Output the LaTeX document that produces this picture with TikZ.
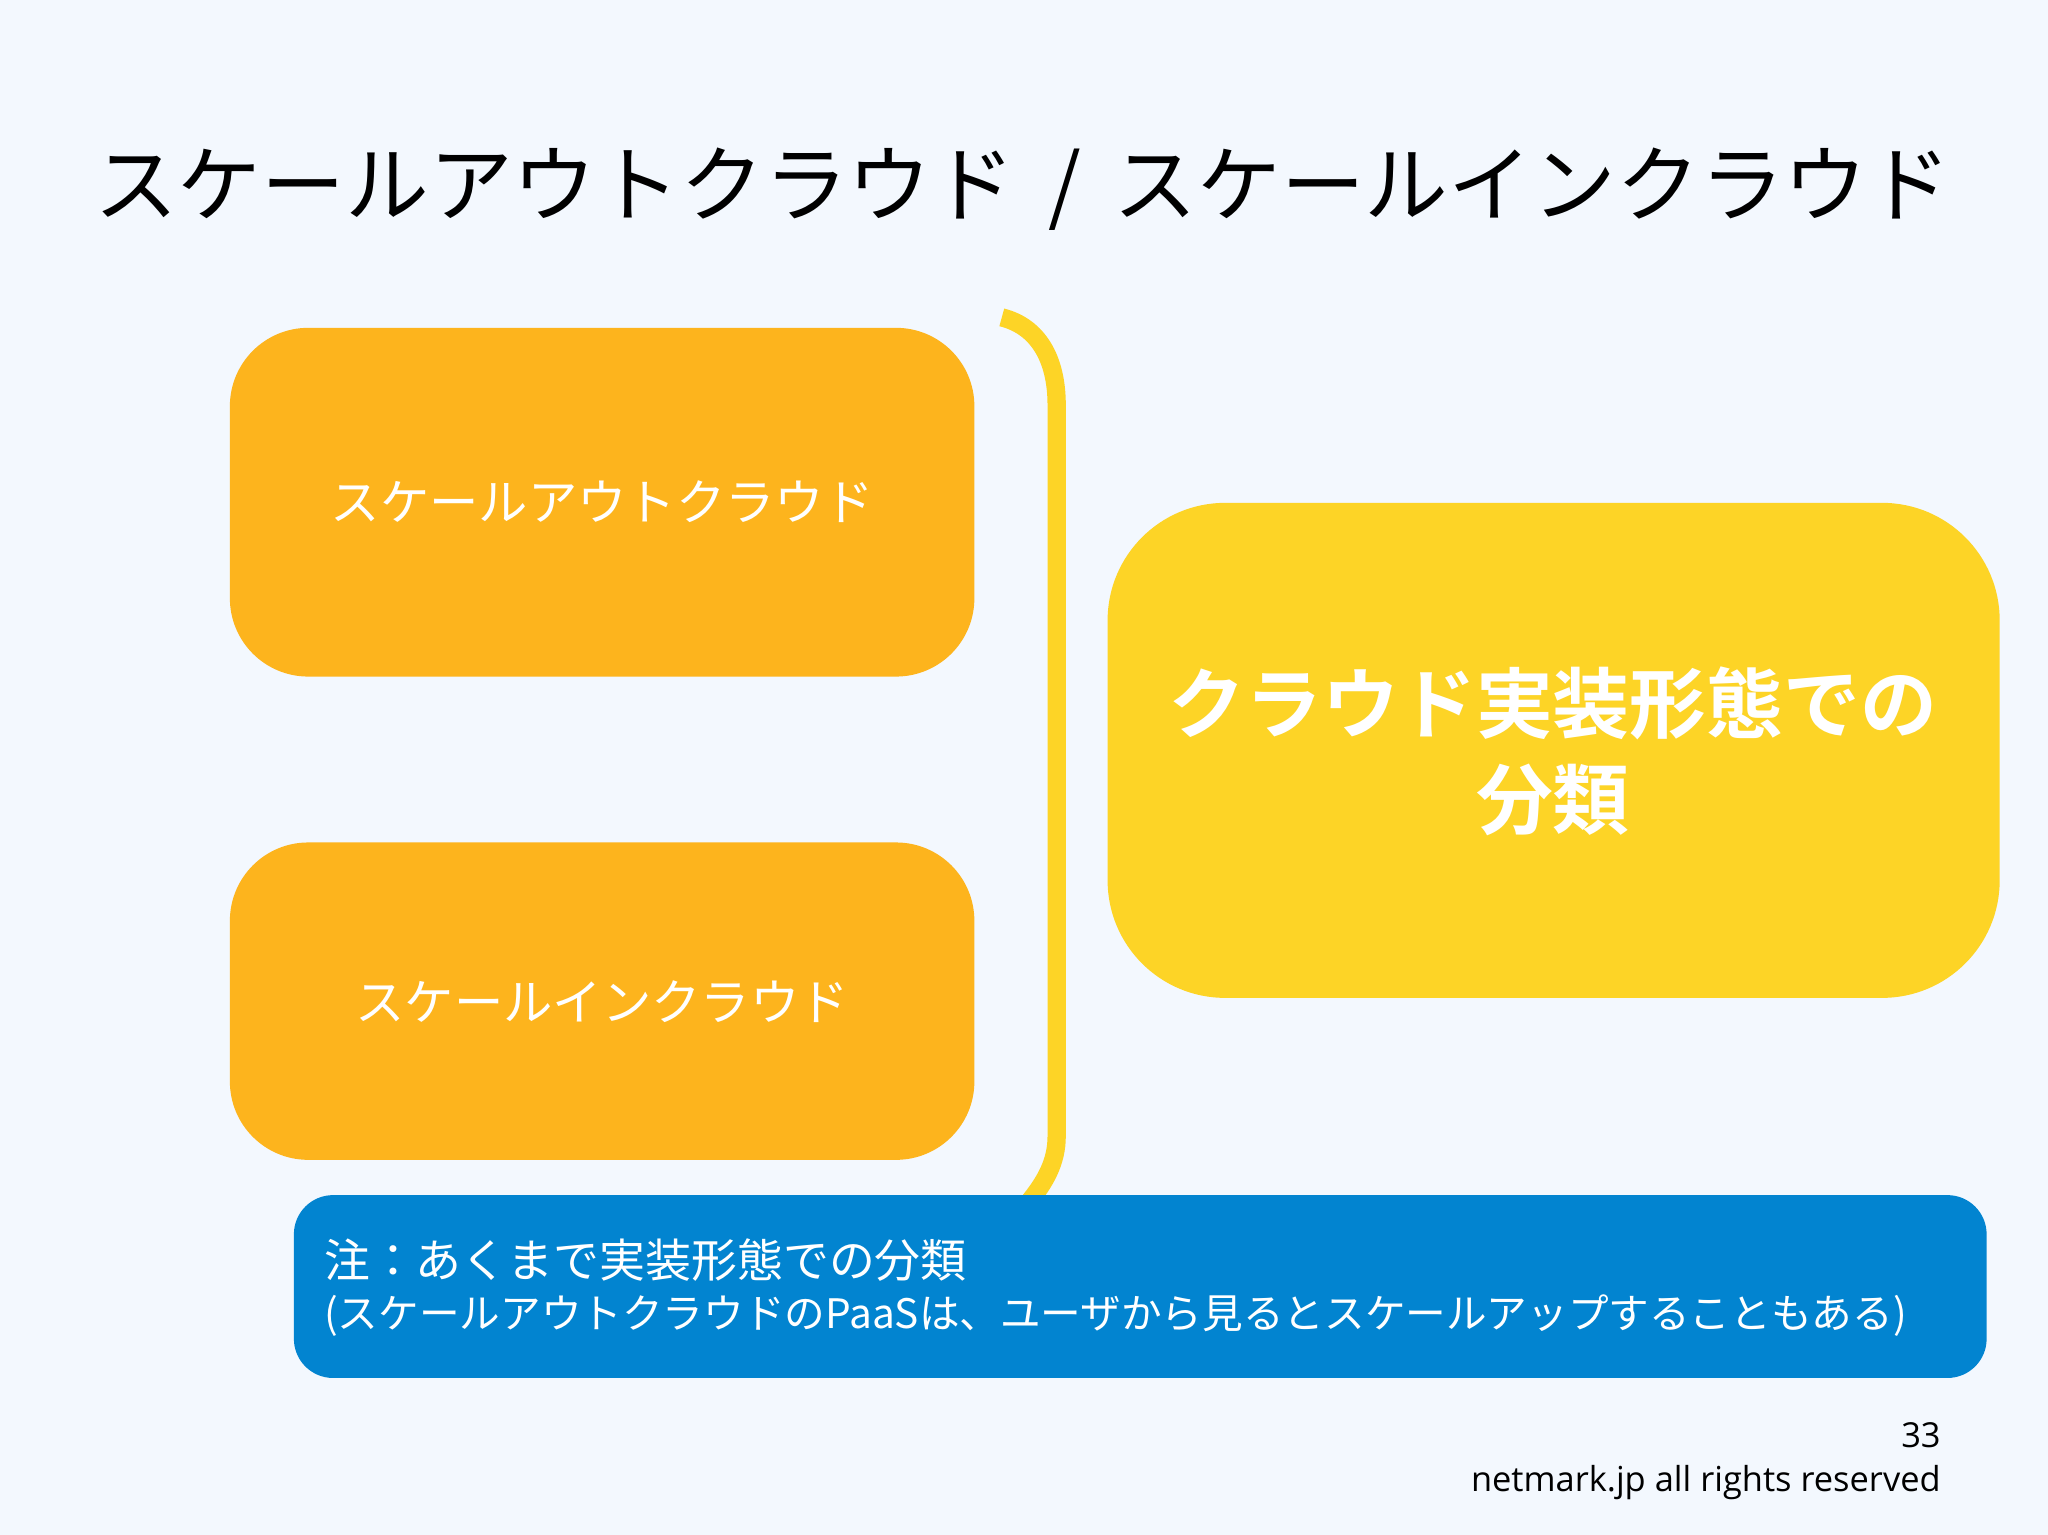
\documentclass[tikz,border=0pt]{standalone}
\usepackage{fontspec}
\setmainfont{Noto Sans CJK JP}
\newfontfamily\jpb{Noto Sans CJK JP Bold}
\newfontfamily\ftf{Open Sans}
\definecolor{bg}{HTML}{F3F8FE}
\definecolor{orng}{HTML}{FDB41D}
\definecolor{yel}{HTML}{FDD426}
\definecolor{blu}{HTML}{0284D0}
\begin{document}
\begin{tikzpicture}[x=0.02cm,y=-0.02cm,
  obox/.style={fill=orng,rounded corners=1.2cm},
  wtxt/.style={text=white,font=\fontsize{21.5}{24}\selectfont}]
\fill[bg] (0,0) rectangle (1568,1175);
\useasboundingbox (0,0) rectangle (1568,1175);
\node[font=\fontsize{36.5}{40}\selectfont] (title) at (783,145) {スケールアウトクラウド \,/\, スケールインクラウド};
\fill[obox] (176,251) rectangle (746,518);
\node[wtxt] (b1) at (461,384) {スケールアウトクラウド};
\fill[obox] (176,645) rectangle (746,888);
\node[wtxt] (b2) at (461,767) {スケールインクラウド};
\draw[yel,line width=0.28cm] (767,243) .. controls (795,250) and (809,275) .. (809,310) -- (809,870) .. controls (809,890) and (800,905) .. (788,920);
\fill[yel,rounded corners=1.8cm] (848,385) rectangle (1531,764);
\node[text=white,font=\jpb\fontsize{33.5}{42}\selectfont,align=center] (big) at (1189,575) {クラウド実装形態での\\分類};
\fill[blu,rounded corners=0.6cm] (225,915) rectangle (1521,1055);
\node[text=white,anchor=west,font=\fontsize{20}{22}\selectfont] (n1) at (242,965) {注：あくまで実装形態での分類};
\node[text=white,anchor=west,font=\fontsize{17.7}{20}\selectfont] (n2) at (242,1007) {(スケールアウトクラウドのPaaSは、ユーザから見るとスケールアップすることもある)};
\node[anchor=east,font=\ftf\fontsize{15}{17}\selectfont] (pg) at (1492,1099) {33};
\node[anchor=east,font=\ftf\fontsize{15}{17}\selectfont] (ft) at (1492,1135) {netmark.jp all rights reserved};
\end{tikzpicture}
\end{document}
